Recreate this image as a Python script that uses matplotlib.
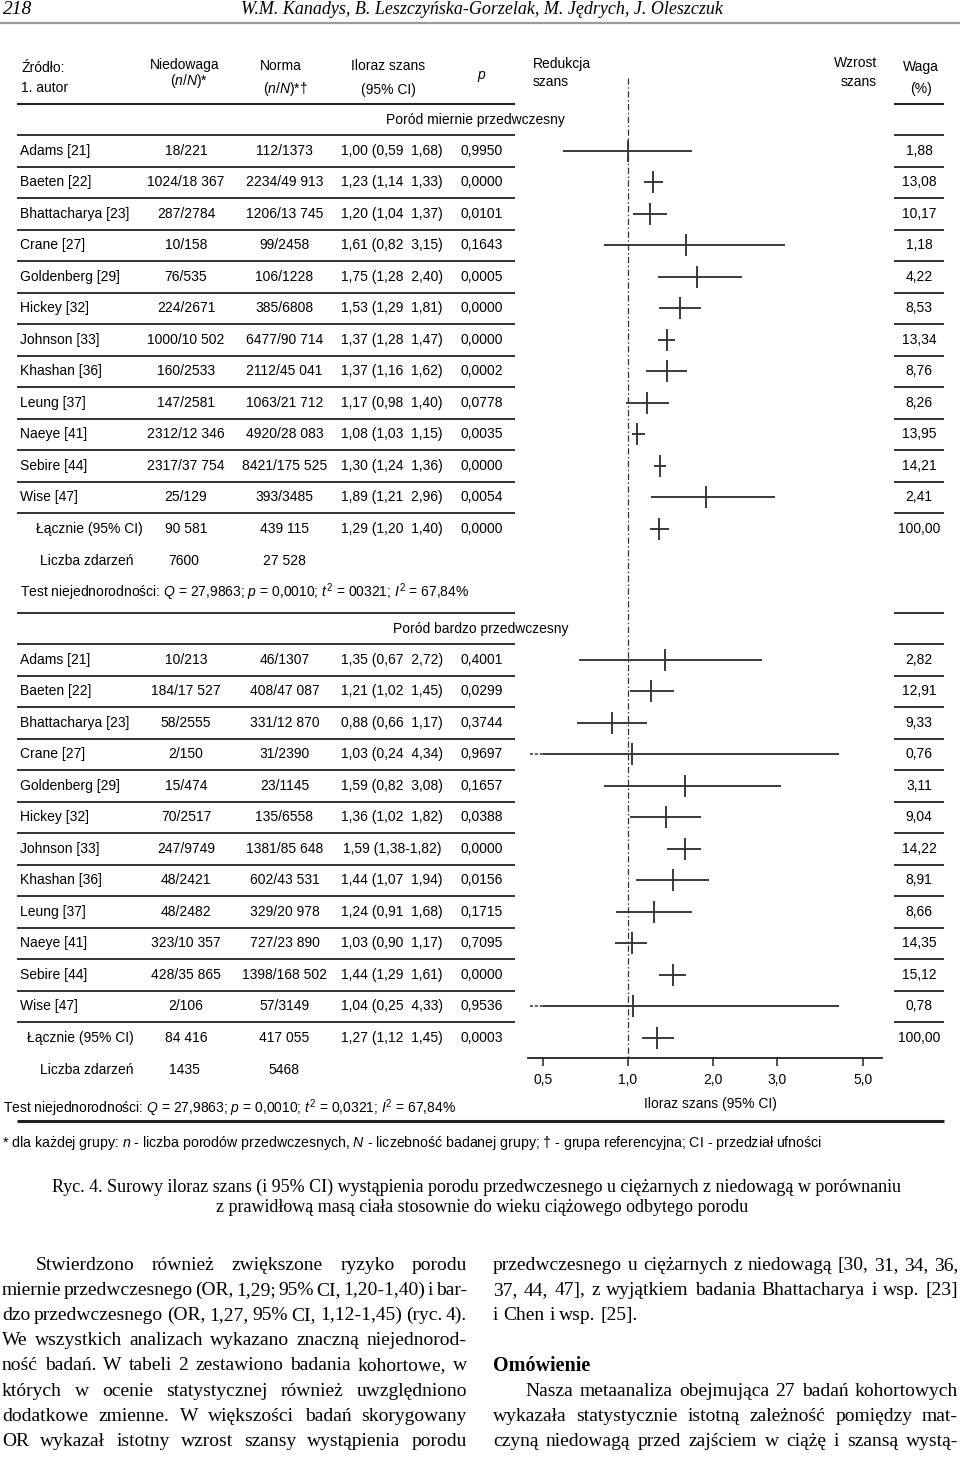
import numpy as np
import matplotlib
matplotlib.use("Agg")
import matplotlib.pyplot as plt
from matplotlib.ticker import NullLocator

plt.rcParams['mathtext.fontset'] = 'custom'
plt.rcParams['mathtext.rm'] = 'Liberation Sans'
plt.rcParams['mathtext.it'] = 'Liberation Sans:italic'
plt.rcParams['mathtext.bf'] = 'Liberation Sans:bold'

# ---------------- data ----------------
studies = ["Adams [21]", "Baeten [22]", "Bhattacharya [23]", "Crane [27]", "Goldenberg [29]",
           "Hickey [32]", "Johnson [33]", "Khashan [36]", "Leung [37]", "Naeye [41]",
           "Sebire [44]", "Wise [47]"]

mild_under = ["18/221", "1024/18 367", "287/2784", "10/158", "76/535", "224/2671",
              "1000/10 502", "160/2533", "147/2581", "2312/12 346", "2317/37 754", "25/129"]
mild_norm = ["112/1373", "2234/49 913", "1206/13 745", "99/2458", "106/1228", "385/6808",
             "6477/90 714", "2112/45 041", "1063/21 712", "4920/28 083", "8421/175 525", "393/3485"]
mild_or = [1.00, 1.23, 1.20, 1.61, 1.75, 1.53, 1.37, 1.37, 1.17, 1.08, 1.30, 1.89]
mild_lo = [0.59, 1.14, 1.04, 0.82, 1.28, 1.29, 1.28, 1.16, 0.98, 1.03, 1.24, 1.21]
mild_hi = [1.68, 1.33, 1.37, 3.15, 2.40, 1.81, 1.47, 1.62, 1.40, 1.15, 1.36, 2.96]
mild_p = ["0,9950", "0,0000", "0,0101", "0,1643", "0,0005", "0,0000", "0,0000", "0,0002",
          "0,0778", "0,0035", "0,0000", "0,0054"]
mild_w = [1.88, 13.08, 10.17, 1.18, 4.22, 8.53, 13.34, 8.76, 8.26, 13.95, 14.21, 2.41]
mild_sep = ["  "] * 12
mild_total = ["90 581", "439 115"]
mild_pooled = [1.29, 1.20, 1.40]
mild_pooled_p = "0,0000"
mild_events = ["7600", "27 528"]
mild_test = r"Test niejednorodności: $Q$ = 27,9863; $p$ = 0,0010; $t^2$ = 00321; $I^2$ = 67,84%"

very_under = ["10/213", "184/17 527", "58/2555", "2/150", "15/474", "70/2517", "247/9749",
              "48/2421", "48/2482", "323/10 357", "428/35 865", "2/106"]
very_norm = ["46/1307", "408/47 087", "331/12 870", "31/2390", "23/1145", "135/6558",
             "1381/85 648", "602/43 531", "329/20 978", "727/23 890", "1398/168 502", "57/3149"]
very_or = [1.35, 1.21, 0.88, 1.03, 1.59, 1.36, 1.59, 1.44, 1.24, 1.03, 1.44, 1.04]
very_lo = [0.67, 1.02, 0.66, 0.24, 0.82, 1.02, 1.38, 1.07, 0.91, 0.90, 1.29, 0.25]
very_hi = [2.72, 1.45, 1.17, 4.34, 3.08, 1.82, 1.82, 1.94, 1.68, 1.17, 1.61, 4.33]
very_p = ["0,4001", "0,0299", "0,3744", "0,9697", "0,1657", "0,0388", "0,0000", "0,0156",
          "0,1715", "0,7095", "0,0000", "0,9536"]
very_w = [2.82, 12.91, 9.33, 0.76, 3.11, 9.04, 14.22, 8.91, 8.66, 14.35, 15.12, 0.78]
very_sep = ["  ", "  ", "  ", "  ", "  ", "  ", "-", "  ", "  ", "  ", "  ", "  "]
very_total = ["84 416", "417 055"]
very_pooled = [1.27, 1.12, 1.45]
very_pooled_p = "0,0003"
very_events = ["1435", "5468"]
very_test = r"Test niejednorodności: $Q$ = 27,9863; $p$ = 0,0010; $t^2$ = 0,0321; $I^2$ = 67,84%"

tick_vals = [0.5, 1.0, 2.0, 3.0, 5.0]
tick_labels = ["0,5", "1,0", "2,0", "3,0", "5,0"]

body_left = [
    "Stwierdzono również zwiększone ryzyko porodu",
    "miernie przedwczesnego (OR, 1,29; 95% CI, 1,20-1,40) i bar-",
    "dzo przedwczesnego (OR, 1,27, 95% CI, 1,12-1,45) (ryc. 4).",
    "We wszystkich analizach wykazano znaczną niejednorod-",
    "ność badań. W tabeli 2 zestawiono badania kohortowe, w",
    "których w ocenie statystycznej również uwzględniono",
    "dodatkowe zmienne. W większości badań skorygowany",
    "OR wykazał istotny wzrost szansy wystąpienia porodu",
]
body_right_a = [
    "przedwczesnego u ciężarnych z niedowagą [30, 31, 34, 36,",
    "37, 44, 47], z wyjątkiem badania Bhattacharya i wsp. [23]",
    "i Chen i wsp. [25].",
]
body_right_b = [
    "Nasza metaanaliza obejmująca 27 badań kohortowych",
    "wykazała statystycznie istotną zależność pomiędzy mat-",
    "czyną niedowagą przed zajściem w ciążę i szansą wystą-",
]

# ---------------- figure ----------------
SANS = ['Liberation Sans', 'DejaVu Sans']
SERIF = ['Liberation Serif', 'DejaVu Serif']
W, H = 960, 1459
fig = plt.figure(figsize=(W / 100, H / 100), dpi=100)
ax = fig.add_axes([0, 0, 1, 1])
ax.set_xlim(0, W)
ax.set_ylim(H, 0)
ax.axis('off')
renderer = fig.canvas.get_renderer()

FS = 10
RULE = '#222222'


def fmt(v):
    return f"{v:.2f}".replace('.', ',')


def put(x, y, s, size=FS, ha='left', va='center', family=SANS, **kw):
    return ax.text(x, y, s, fontsize=size, ha=ha, va=va, family=family, **kw)


def fit(x, y, s, width, size, ha='left', **kw):
    t = put(x, y, s, size=size, ha=ha, **kw)
    w = t.get_window_extent(renderer).width
    t.set_fontsize(size * width / w)
    return t


def rule(y, x0, x1, lw=1.3, color=RULE):
    ax.plot([x0, x1], [y, y], color=color, lw=lw, solid_capstyle='butt')


def justify(x0, x1, yc, s, size, indent=0, last=False, weight='normal'):
    words = s.split()
    arts = [ax.text(0, yc + 5, w_, fontsize=size, family=SERIF, va='baseline', weight=weight)
            for w_ in words]
    widths = [a.get_window_extent(renderer).width for a in arts]
    avail = x1 - x0 - indent
    space = size * 100 / 72 * 0.25
    if last or len(words) == 1:
        gap = space
    else:
        gap = (avail - sum(widths)) / (len(words) - 1)
        if gap < space * 0.4:
            f = (avail - space * 0.4 * (len(words) - 1)) / sum(widths)
            for a in arts:
                a.set_fontsize(size * f)
            widths = [a.get_window_extent(renderer).width for a in arts]
            gap = (avail - sum(widths)) / (len(words) - 1)
    x = x0 + indent
    for a, wd in zip(arts, widths):
        a.set_x(x)
        x += wd + gap


# page header
put(3, 10, "218", size=14, family=SERIF, style='italic')
fit(482, 9, "W.M. Kanadys, B. Leszczyńska-Gorzelak, M. Jędrych, J. Oleszczuk", 481, 13,
    ha='center', family=SERIF, style='italic')
rule(23, 0, 960, lw=1.6, color='#9a9a9a')

# column header
put(21, 68, "Źródło:")
put(21, 88, "1. autor")
put(185, 65, "Niedowaga", ha='center')
put(189, 81, r"($n/N$)*", ha='center')
put(281, 66, "Norma", ha='center')
put(285, 89, r"($n/N$)*†", ha='center')
put(388, 66, "Iloraz szans", ha='center')
put(388, 90, "(95% CI)", ha='center')
put(481, 75, "p", ha='center', style='italic')
put(533, 64, "Redukcja")
put(533, 82, "szans")
put(877, 63, "Wzrost", ha='right')
put(877, 82, "szans", ha='right')
put(921, 67, "Waga", ha='center')
put(921, 89, "(%)", ha='center')

L0, L1 = 17, 515
R0, R1 = 894, 944
ROWH = 31.5

# forest axes
anchor_val = np.array([0.1, 0.25, 0.5, 1.0, 2.0, 3.0, 5.0, 10.0])
anchor_px = np.array([346., 458., 543., 628., 713., 777., 863., 980.])
lv = np.log(anchor_val)


def fwd(v):
    v = np.asarray(v, float)
    return np.interp(np.log(np.clip(v, 1e-6, None)), lv, anchor_px)


def inv(p):
    return np.exp(np.interp(np.asarray(p, float), anchor_px, lv))


FX0, FX1, FY = 528, 882, 1058
axf = fig.add_axes([FX0 / W, 1 - FY / H, (FX1 - FX0) / W, FY / H])
axf.set_xscale('function', functions=(fwd, inv))
axf.set_xlim(inv(FX0), inv(FX1))
axf.set_ylim(FY, 0)
axf.patch.set_visible(False)
for s in ['top', 'left', 'right']:
    axf.spines[s].set_visible(False)
axf.spines['bottom'].set_linewidth(1.3)
axf.spines['bottom'].set_color(RULE)
axf.set_xticks(tick_vals)
axf.set_xticklabels(tick_labels, family=SANS, fontsize=FS)
axf.xaxis.set_minor_locator(NullLocator())
axf.set_yticks([])
axf.tick_params(axis='x', length=6, width=1.1, color=RULE, direction='out', pad=5)
axf.vlines(1.0, 78, FY, colors='#333333', lw=0.9, linestyles=(0, (5, 2, 1.2, 2)))

CLIP = 0.5
CROSS = '#333333'


def cross(y, o, lo, hi):
    axf.hlines(y, max(lo, CLIP), hi, colors=CROSS, lw=1.35)
    if lo < CLIP:
        axf.hlines(y, inv(FX0 + 2), CLIP, colors=CROSS, lw=1.1, linestyles=(0, (2, 1.2)))
    axf.vlines(o, y - 11, y + 11, colors=CROSS, lw=1.35)


def section(top, title, title_x, under, norm, ors, los, his, ps, ws, seps,
            total, pooled, pooled_p, events, lacznie_x, liczba_y, test_y, test_x, test, end_rule):
    put(title_x, top - 15, title, ha='center')
    for j in range(13):
        y = top + ROWH * j
        rule(y, L0, L1)
        rule(y, R0, R1)
    for k in range(12):
        y = top + ROWH * k + ROWH / 2
        put(20, y, studies[k])
        put(186, y, under[k], ha='center')
        put(284.5, y, norm[k], ha='center')
        put(392, y, f"{fmt(ors[k])} ({fmt(los[k])}{seps[k]}{fmt(his[k])})", ha='center')
        put(482, y, ps[k], ha='center')
        put(919, y, fmt(ws[k]), ha='center')
        cross(y, ors[k], los[k], his[k])
    y = top + ROWH * 12 + ROWH / 2
    put(lacznie_x, y, "Łącznie (95% CI)")
    put(186, y, total[0], ha='center')
    put(284, y, total[1], ha='center')
    put(392, y, f"{fmt(pooled[0])} ({fmt(pooled[1])}  {fmt(pooled[2])})", ha='center')
    put(482, y, pooled_p, ha='center')
    put(919, y, "100,00", ha='center')
    cross(y, pooled[0], pooled[1], pooled[2])
    put(40, liczba_y, "Liczba zdarzeń")
    put(184, liczba_y, events[0], ha='center')
    put(284, liczba_y, events[1], ha='center')
    put(test_x, test_y, test)
    end_rule()


rule(104, L0, L1, lw=1.5)
rule(104, R0, R1, lw=1.5)
section(135, "Poród miernie przedwczesny", 475, mild_under, mild_norm, mild_or, mild_lo, mild_hi,
        mild_p, mild_w, mild_sep, mild_total, mild_pooled, mild_pooled_p, mild_events,
        36, 561, 592, 20, mild_test,
        lambda: (rule(613, L0, L1), rule(613, R0, R1)))
section(644, "Poród bardzo przedwczesny", 481, very_under, very_norm, very_or, very_lo, very_hi,
        very_p, very_w, very_sep, very_total, very_pooled, very_pooled_p, very_events,
        27, 1070, 1108, 3, very_test,
        lambda: rule(1121, L0, R1, lw=2.2))

put(710, 1104, "Iloraz szans (95% CI)", ha='center')

# footnote
fit(2, 1143, r"* dla każdej grupy: $n$ - liczba porodów przedwczesnych, $N$ - liczebność badanej grupy; "
    r"† - grupa referencyjna; CI - przedział ufności", 822, 9)

# caption
cap1 = fit(52, 1187, "Ryc. 4. Surowy iloraz szans (i 95% CI) wystąpienia porodu przedwczesnego u ciężarnych "
           "z niedowagą w porównaniu", 848, 13, family=SERIF)
put(482, 1208, "z prawidłową masą ciała stosownie do wieku ciążowego odbytego porodu",
    size=cap1.get_fontsize(), ha='center', family=SERIF)

# body text
BS = 14.0
ys = [1265 + 25.1 * i for i in range(8)]
for i, line in enumerate(body_left):
    justify(2, 467, ys[i], line, BS, indent=34 if i == 0 else 0)
for i, line in enumerate(body_right_a):
    justify(493, 958, ys[i], line, BS, last=(i == 2))
ax.text(493, 1366 + 5, "Omówienie", fontsize=14.5, family=SERIF, weight='bold', va='baseline')
for i, line in enumerate(body_right_b):
    justify(493, 958, ys[5 + i], line, BS, indent=32 if i == 0 else 0)

fig.savefig("out.png", dpi=100)
